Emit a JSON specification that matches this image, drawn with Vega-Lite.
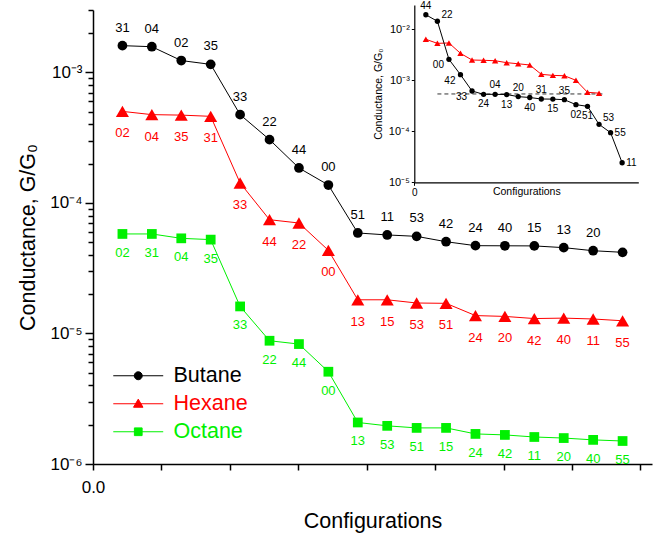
{
  "$schema": "https://vega.github.io/schema/vega-lite/v6.json",
  "width": 559,
  "height": 454,
  "autosize": "none",
  "padding": {"left": 93, "top": 10, "right": 4, "bottom": 70},
  "config": {
    "view": {"stroke": null},
    "font": "Liberation Sans",
    "axis": {"grid": false, "domainColor": "black", "tickColor": "black", "labelColor": "black", "titleColor": "black", "labelFont": "Liberation Sans", "titleFont": "Liberation Sans", "titleFontWeight": "normal"},
    "text": {"font": "Liberation Sans"}
  },
  "datasets": {
    "main": [
      {"i": 1, "g": 1.60e-3, "series": "Butane", "lab": "31"},
      {"i": 2, "g": 1.57e-3, "series": "Butane", "lab": "04"},
      {"i": 3, "g": 1.23e-3, "series": "Butane", "lab": "02"},
      {"i": 4, "g": 1.15e-3, "series": "Butane", "lab": "35"},
      {"i": 5, "g": 4.74e-4, "series": "Butane", "lab": "33"},
      {"i": 6, "g": 3.05e-4, "series": "Butane", "lab": "22"},
      {"i": 7, "g": 1.85e-4, "series": "Butane", "lab": "44"},
      {"i": 8, "g": 1.37e-4, "series": "Butane", "lab": "00"},
      {"i": 9, "g": 5.88e-5, "series": "Butane", "lab": "51"},
      {"i": 10, "g": 5.68e-5, "series": "Butane", "lab": "11"},
      {"i": 11, "g": 5.54e-5, "series": "Butane", "lab": "53"},
      {"i": 12, "g": 5.04e-5, "series": "Butane", "lab": "42"},
      {"i": 13, "g": 4.70e-5, "series": "Butane", "lab": "24"},
      {"i": 14, "g": 4.69e-5, "series": "Butane", "lab": "40"},
      {"i": 15, "g": 4.68e-5, "series": "Butane", "lab": "15"},
      {"i": 16, "g": 4.54e-5, "series": "Butane", "lab": "13"},
      {"i": 17, "g": 4.30e-5, "series": "Butane", "lab": "20"},
      {"i": 18, "g": 4.18e-5, "series": "Butane", "lab": ""},
      {"i": 1, "g": 5.02e-4, "series": "Hexane", "lab": "02"},
      {"i": 2, "g": 4.74e-4, "series": "Hexane", "lab": "04"},
      {"i": 3, "g": 4.70e-4, "series": "Hexane", "lab": "35"},
      {"i": 4, "g": 4.60e-4, "series": "Hexane", "lab": "31"},
      {"i": 5, "g": 1.42e-4, "series": "Hexane", "lab": "33"},
      {"i": 6, "g": 7.43e-5, "series": "Hexane", "lab": "44"},
      {"i": 7, "g": 7.01e-5, "series": "Hexane", "lab": "22"},
      {"i": 8, "g": 4.33e-5, "series": "Hexane", "lab": "00"},
      {"i": 9, "g": 1.81e-5, "series": "Hexane", "lab": "13"},
      {"i": 10, "g": 1.81e-5, "series": "Hexane", "lab": "15"},
      {"i": 11, "g": 1.71e-5, "series": "Hexane", "lab": "53"},
      {"i": 12, "g": 1.70e-5, "series": "Hexane", "lab": "51"},
      {"i": 13, "g": 1.37e-5, "series": "Hexane", "lab": "24"},
      {"i": 14, "g": 1.35e-5, "series": "Hexane", "lab": "20"},
      {"i": 15, "g": 1.30e-5, "series": "Hexane", "lab": "42"},
      {"i": 16, "g": 1.31e-5, "series": "Hexane", "lab": "40"},
      {"i": 17, "g": 1.29e-5, "series": "Hexane", "lab": "11"},
      {"i": 18, "g": 1.25e-5, "series": "Hexane", "lab": "55"},
      {"i": 1, "g": 5.78e-5, "series": "Octane", "lab": "02"},
      {"i": 2, "g": 5.78e-5, "series": "Octane", "lab": "31"},
      {"i": 3, "g": 5.35e-5, "series": "Octane", "lab": "04"},
      {"i": 4, "g": 5.23e-5, "series": "Octane", "lab": "35"},
      {"i": 5, "g": 1.61e-5, "series": "Octane", "lab": "33"},
      {"i": 6, "g": 8.79e-6, "series": "Octane", "lab": "22"},
      {"i": 7, "g": 8.29e-6, "series": "Octane", "lab": "44"},
      {"i": 8, "g": 5.09e-6, "series": "Octane", "lab": "00"},
      {"i": 9, "g": 2.08e-6, "series": "Octane", "lab": "13"},
      {"i": 10, "g": 1.96e-6, "series": "Octane", "lab": "53"},
      {"i": 11, "g": 1.89e-6, "series": "Octane", "lab": "51"},
      {"i": 12, "g": 1.89e-6, "series": "Octane", "lab": "15"},
      {"i": 13, "g": 1.70e-6, "series": "Octane", "lab": "24"},
      {"i": 14, "g": 1.67e-6, "series": "Octane", "lab": "42"},
      {"i": 15, "g": 1.61e-6, "series": "Octane", "lab": "11"},
      {"i": 16, "g": 1.58e-6, "series": "Octane", "lab": "20"},
      {"i": 17, "g": 1.53e-6, "series": "Octane", "lab": "40"},
      {"i": 18, "g": 1.50e-6, "series": "Octane", "lab": "55"}
    ],
    "inset": [
      {"i": 1, "g": 1.93e-2, "s": "k", "lab": "44"},
      {"i": 2, "g": 1.44e-2, "s": "k", "lab": "22"},
      {"i": 3, "g": 2.58e-3, "s": "k", "lab": "00"},
      {"i": 4, "g": 1.29e-3, "s": "k", "lab": "42"},
      {"i": 5, "g": 6.17e-4, "s": "k", "lab": "33"},
      {"i": 6, "g": 5.31e-4, "s": "k", "lab": "24"},
      {"i": 7, "g": 5.31e-4, "s": "k", "lab": "04"},
      {"i": 8, "g": 5.26e-4, "s": "k", "lab": "13"},
      {"i": 9, "g": 4.79e-4, "s": "k", "lab": "20"},
      {"i": 10, "g": 4.60e-4, "s": "k", "lab": "40"},
      {"i": 11, "g": 4.30e-4, "s": "k", "lab": "31"},
      {"i": 12, "g": 4.28e-4, "s": "k", "lab": "15"},
      {"i": 13, "g": 4.17e-4, "s": "k", "lab": "35"},
      {"i": 14, "g": 3.33e-4, "s": "k", "lab": "02"},
      {"i": 15, "g": 3.09e-4, "s": "k", "lab": "51"},
      {"i": 16, "g": 1.37e-4, "s": "k", "lab": "53"},
      {"i": 17, "g": 9.4e-5, "s": "k", "lab": "55"},
      {"i": 18, "g": 2.42e-5, "s": "k", "lab": "11"},
      {"i": 1, "g": 6.37e-3, "s": "r", "lab": ""},
      {"i": 2, "g": 5.31e-3, "s": "r", "lab": ""},
      {"i": 3, "g": 5.40e-3, "s": "r", "lab": ""},
      {"i": 4, "g": 3.38e-3, "s": "r", "lab": ""},
      {"i": 5, "g": 2.50e-3, "s": "r", "lab": ""},
      {"i": 6, "g": 2.47e-3, "s": "r", "lab": ""},
      {"i": 7, "g": 2.42e-3, "s": "r", "lab": ""},
      {"i": 8, "g": 2.22e-3, "s": "r", "lab": ""},
      {"i": 9, "g": 2.11e-3, "s": "r", "lab": ""},
      {"i": 10, "g": 2.00e-3, "s": "r", "lab": ""},
      {"i": 11, "g": 1.31e-3, "s": "r", "lab": ""},
      {"i": 12, "g": 1.25e-3, "s": "r", "lab": ""},
      {"i": 13, "g": 1.23e-3, "s": "r", "lab": ""},
      {"i": 14, "g": 1.00e-3, "s": "r", "lab": ""},
      {"i": 15, "g": 5.82e-4, "s": "r", "lab": ""},
      {"i": 16, "g": 5.60e-4, "s": "r", "lab": ""}
    ],
    "dash": [{"x1": 2, "x2": 16.5, "g": 5.4e-4}]
  },
  "layer": [
    {
      "data": {"name": "main"},
      "encoding": {
        "x": {"field": "i", "type": "quantitative",
          "scale": {"domain": [0, 19], "nice": false, "zero": false},
          "axis": {"orient": "bottom", "title": "Configurations", "titleFontSize": 21.5, "titlePadding": 15,
            "values": [0, 2.3256, 4.6512, 6.9767, 9.3023, 11.6279, 13.9535, 16.2791, 18.6047],
            "labelExpr": "datum.value == 0 ? '0.0' : ''", "labelFontSize": 17, "labelPadding": 9,
            "tickSize": 6, "tickWidth": 1.5, "domainWidth": 1.5, "labelOverlap": false, "labelFlush": false}},
        "y": {"field": "g", "type": "quantitative",
          "scale": {"type": "log", "domain": [1e-6, 3e-3], "nice": false},
          "axis": {"orient": "left", "title": "Conductance, G/G₀", "titleFontSize": 21.5, "titlePadding": 10,
            "values": [1e-6, 2e-6, 3e-6, 4e-6, 5e-6, 6e-6, 7e-6, 8e-6, 9e-6, 1e-5, 2e-5, 3e-5, 4e-5, 5e-5, 6e-5, 7e-5, 8e-5, 9e-5, 1e-4, 2e-4, 3e-4, 4e-4, 5e-4, 6e-4, 7e-4, 8e-4, 9e-4, 1e-3, 2e-3, 3e-3],
            "labelExpr": "abs(log(datum.value)/LN10 - round(log(datum.value)/LN10)) > 0.01 ? '' : '10⁻' + ['⁰','¹','²','³','⁴','⁵','⁶','⁷','⁸','⁹'][round(-log(datum.value)/LN10)]",
            "labelFontSize": 17, "labelPadding": 3, "labelOverlap": false, "labelFlush": false,
            "tickSize": {"condition": {"test": "abs(log(datum.value)/LN10 - round(log(datum.value)/LN10)) < 0.01", "value": 8}, "value": 5},
            "tickWidth": 1.5, "domainWidth": 1.5}}
      },
      "layer": [
        {
          "mark": {"type": "line", "strokeWidth": 1},
          "encoding": {
            "color": {"field": "series", "type": "nominal",
              "scale": {"domain": ["Butane", "Hexane", "Octane"], "range": ["#000000", "#ff0000", "#00f000"]},
              "legend": {"orient": "none", "legendX": 34.5, "legendY": 355, "title": null, "padding": 0,
                "symbolSize": 156, "symbolStrokeWidth": 1,
                "labelFontSize": 21.5, "labelFont": "Liberation Sans", "labelOffset": 24.5, "rowPadding": 5,
                "encode": {
                  "labels": {"update": {"fill": {"signal": "datum.value === 'Butane' ? '#000000' : datum.value === 'Hexane' ? '#ff0000' : '#00f000'"}}},
                  "symbols": {"update": {
                    "shape": {"signal": "datum.value === 'Butane' ? 'M-4,0H4M-0.64,0A0.64,0.64,0,1,0,0.64,0A0.64,0.64,0,1,0,-0.64,0Z' : datum.value === 'Hexane' ? 'M-4,0H4M0,-0.74L0.76,0.56L-0.76,0.56Z' : 'M-4,0H4M-0.62,-0.62H0.62V0.62H-0.62Z'"},
                    "fill": {"signal": "datum.value === 'Butane' ? '#000000' : datum.value === 'Hexane' ? '#ff0000' : '#00f000'"},
                    "stroke": {"signal": "datum.value === 'Butane' ? '#333333' : datum.value === 'Hexane' ? '#ff0000' : '#00f000'"},
                    "strokeWidth": {"value": 1},
                    "size": {"value": 156},
                    "opacity": {"value": 1}
                  }}
                }}}
          }
        },
        {
          "transform": [{"filter": "datum.series === 'Butane'"}],
          "mark": {"type": "point", "shape": "circle", "filled": true, "opacity": 1, "color": "#000000", "size": 95},
          "encoding": {}
        },
        {
          "transform": [{"filter": "datum.series === 'Hexane'"}],
          "mark": {"type": "point", "shape": "triangle-up", "filled": true, "opacity": 1, "color": "#ff0000", "size": 170},
          "encoding": {}
        },
        {
          "transform": [{"filter": "datum.series === 'Octane'"}],
          "mark": {"type": "point", "shape": "square", "filled": true, "opacity": 1, "color": "#00f000", "size": 95},
          "encoding": {}
        },
        {
          "transform": [{"filter": "datum.series === 'Butane'"}],
          "mark": {"type": "text", "fontSize": 13, "dy": -18, "color": "#000000"},
          "encoding": {"text": {"field": "lab"}}
        },
        {
          "transform": [{"filter": "datum.series === 'Hexane'"}],
          "mark": {"type": "text", "fontSize": 13, "dy": 22, "color": "#ff0000"},
          "encoding": {"text": {"field": "lab"}}
        },
        {
          "transform": [{"filter": "datum.series === 'Octane'"}],
          "mark": {"type": "text", "fontSize": 13, "dy": 19, "color": "#00f000"},
          "encoding": {"text": {"field": "lab"}}
        }
      ]
    },
    {
      "data": {"name": "inset"},
      "encoding": {
        "x": {"field": "i", "type": "quantitative",
          "scale": {"domain": [0, 19.4], "nice": false, "zero": false, "range": [321.3, 545.3]},
          "axis": {"orient": "bottom", "offset": -281.7, "title": "Configurations", "titleFontSize": 10.5, "titlePadding": -11,
            "values": [0], "labelExpr": "'0'", "labelFontSize": 10, "labelPadding": 2, "tickSize": 3, "tickWidth": 1, "domainWidth": 1.2, "labelFlush": false}},
        "y": {"field": "g", "type": "quantitative",
          "scale": {"type": "log", "domain": [1e-5, 3e-2], "nice": false, "range": [172.3, -5]},
          "axis": {"orient": "left", "offset": -321.3, "title": "Conductance, G/G₀", "titleFontSize": 10.5, "titlePadding": 5,
            "values": [1e-5, 1e-4, 1e-3, 1e-2],
            "labelExpr": "'10⁻' + ['⁰','¹','²','³','⁴','⁵','⁶','⁷','⁸','⁹'][round(-log(datum.value)/LN10)]",
            "labelFontSize": 11, "labelPadding": 2, "tickSize": 3, "tickWidth": 1, "domainWidth": 1.2, "labelFlush": false, "labelOverlap": false}}
      },
      "layer": [
        {
          "data": {"name": "dash"},
          "mark": {"type": "rule", "strokeDash": [4, 3], "color": "#333333", "strokeWidth": 1},
          "encoding": {"x": {"field": "x1", "type": "quantitative"}, "x2": {"field": "x2"}, "y": {"field": "g", "type": "quantitative"}}
        },
        {
          "transform": [{"filter": "datum.s === 'r'"}],
          "mark": {"type": "line", "color": "#ff0000", "strokeWidth": 1},
          "encoding": {}
        },
        {
          "transform": [{"filter": "datum.s === 'r'"}],
          "mark": {"type": "point", "shape": "triangle-up", "filled": true, "opacity": 1, "color": "#ff0000", "size": 40},
          "encoding": {}
        },
        {
          "transform": [{"filter": "datum.s === 'k'"}],
          "mark": {"type": "line", "color": "#000000", "strokeWidth": 1},
          "encoding": {}
        },
        {
          "transform": [{"filter": "datum.s === 'k'"}],
          "mark": {"type": "point", "shape": "circle", "filled": true, "opacity": 1, "color": "#000000", "size": 28},
          "encoding": {}
        },
        {
          "transform": [{"filter": "indexof(['44','04','20','31','35'], datum.lab) >= 0"}],
          "mark": {"type": "text", "fontSize": 10, "dy": -9, "color": "#000000"},
          "encoding": {"text": {"field": "lab"}}
        },
        {
          "transform": [{"filter": "indexof(['24','13','40','15','02','51'], datum.lab) >= 0"}],
          "mark": {"type": "text", "fontSize": 10, "dy": 10, "color": "#000000"},
          "encoding": {"text": {"field": "lab"}}
        },
        {
          "transform": [{"filter": "indexof(['00','42','33'], datum.lab) >= 0"}],
          "mark": {"type": "text", "fontSize": 10, "dx": -5, "dy": 6, "align": "right", "color": "#000000"},
          "encoding": {"text": {"field": "lab"}}
        },
        {
          "transform": [{"filter": "indexof(['22','53'], datum.lab) >= 0"}],
          "mark": {"type": "text", "fontSize": 10, "dx": 4, "dy": -6, "align": "left", "color": "#000000"},
          "encoding": {"text": {"field": "lab"}}
        },
        {
          "transform": [{"filter": "indexof(['55','11'], datum.lab) >= 0"}],
          "mark": {"type": "text", "fontSize": 10, "dx": 4, "dy": 0, "align": "left", "color": "#000000"},
          "encoding": {"text": {"field": "lab"}}
        }
      ]
    }
  ],
  "resolve": {"scale": {"x": "independent", "y": "independent"}, "axis": {"x": "independent", "y": "independent"}}
}
